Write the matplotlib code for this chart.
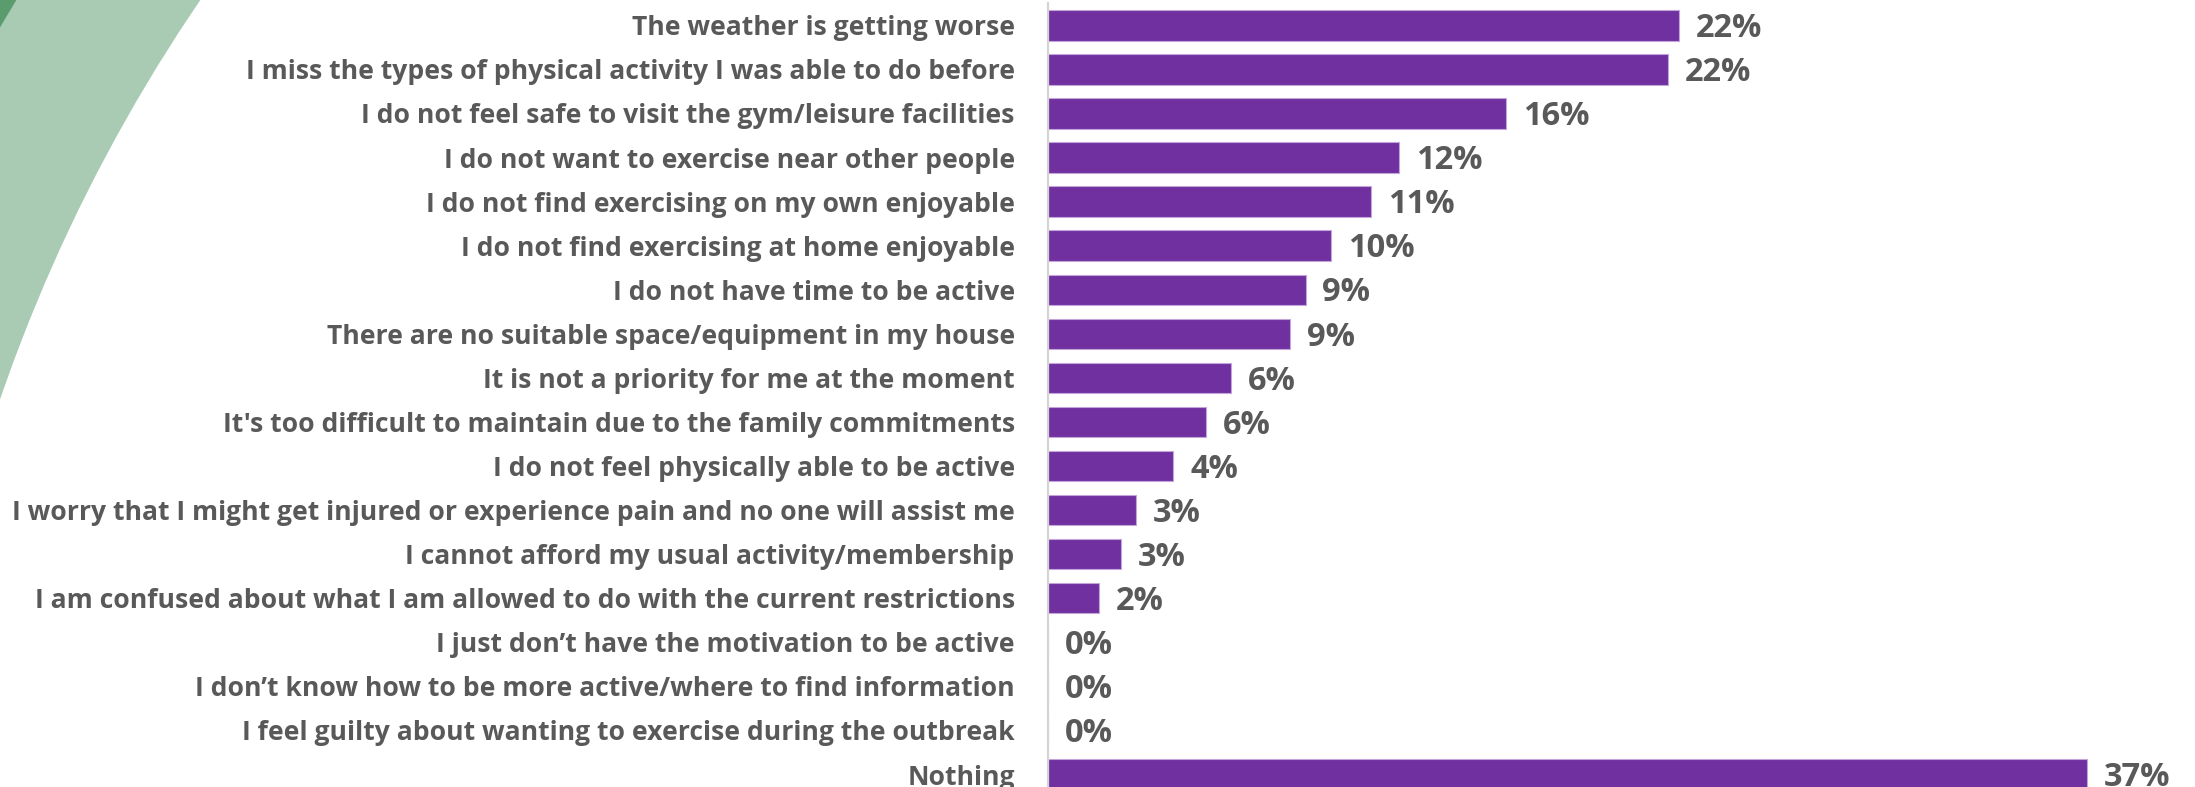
import matplotlib
matplotlib.use("Agg")
import matplotlib.pyplot as plt
from matplotlib.patches import Ellipse, Rectangle

# Survey responses: what is stopping people from being more active
categories = [
    "The weather is getting worse",
    "I miss the types of physical activity I was able to do before",
    "I do not feel safe to visit the gym/leisure facilities",
    "I do not want to exercise near other people",
    "I do not find exercising on my own enjoyable",
    "I do not find exercising at home enjoyable",
    "I do not have time to be active",
    "There are no suitable space/equipment in my house",
    "It is not a priority for me at the moment",
    "It's too difficult to maintain due to the family commitments",
    "I do not feel physically able to be active",
    "I worry that I might get injured or experience pain and no one will assist me",
    "I cannot afford my usual activity/membership",
    "I am confused about what I am allowed to do with the current restrictions",
    "I just don\u2019t have the motivation to be active",
    "I don\u2019t know how to be more active/where to find information",
    "I feel guilty about wanting to exercise during the outbreak",
    "Nothing",
]
share_pct = [22.3, 21.9, 16.2, 12.4, 11.4, 10.0, 9.1, 8.55, 6.47, 5.58,
             4.42, 3.11, 2.58, 1.80, 0.0, 0.0, 0.0, 36.7]

W, H = 2195, 787
fig = plt.figure(figsize=(W / 100, H / 100), dpi=100)

# Decorative green swoosh in the top-left corner
cx, cy = 1584 / W, (H - 944) / H
fig.patches.append(Rectangle((0, 0), 1, 1, transform=fig.transFigure,
                             facecolor="#5a9c6e", edgecolor="none", zorder=-3))
fig.patches.append(Ellipse((cx, cy), 2 * 1830 / W, 2 * 1830 / H,
                           transform=fig.transFigure, facecolor="#a9cbb4",
                           edgecolor="none", zorder=-2))
fig.patches.append(Ellipse((cx, cy), 2 * 1675 / W, 2 * 1675 / H,
                           transform=fig.transFigure, facecolor="white",
                           edgecolor="none", zorder=-1))

ax = fig.add_axes([1048 / W, (H - 796.6) / H, 1132 / W, 793.3 / H])
ax.set_facecolor("none")

y = list(range(len(categories)))
ax.barh(y, share_pct, height=0.69, color="#7030a0",
        edgecolor="#c3a5dc", linewidth=0.8)
ax.set_xlim(0, 40)
ax.set_ylim(len(categories) - 0.5, -0.5)

text_color = "#595959"
ax.set_yticks(y)
ax.set_yticklabels(categories, family="Open Sans", fontweight="bold",
                   fontsize=19.1, color=text_color)
ax.tick_params(axis="y", length=0, pad=24)
ax.set_xticks([])

for s in ["top", "right", "bottom"]:
    ax.spines[s].set_visible(False)
ax.spines["left"].set_color("#d4d4d4")
ax.spines["left"].set_linewidth(1.6)

for yi, v in zip(y, share_pct):
    ax.annotate(f"{v:.0f}%", xy=(v, yi), xytext=(12.2, 0.6),
                textcoords="offset points", ha="left", va="center_baseline",
                family="Open Sans", fontweight="bold", fontsize=23.5,
                color=text_color)

fig.savefig("out.png", dpi=100)
